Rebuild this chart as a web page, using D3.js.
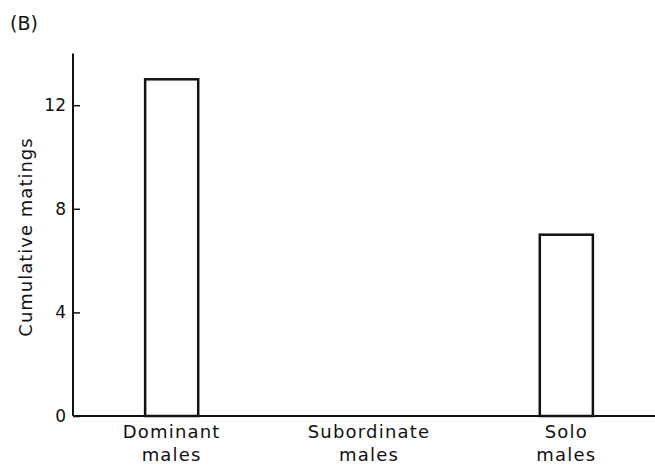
<!DOCTYPE html>
<html><head><meta charset="utf-8">
<script src="https://cdn.jsdelivr.net/npm/d3@7"></script>
<style>body{margin:0;background:#fff}svg{display:block}text{font-family:"DejaVu Sans",sans-serif;fill:#111}</style>
</head><body>
<script>
const categories = ["Dominant\nmales", "Subordinate\nmales", "Solo\nmales"];
const matings = [13, 0, 7];
const yTicks = [0, 4, 8, 12];

const W = 655, H = 468;
const svg = d3.select("body").append("svg").attr("width", W).attr("height", H);
const x = d3.scaleBand().domain(categories).range([73, 665]).paddingInner(0.731).paddingOuter(0.3655);
const y = d3.scaleLinear().domain([0, 14]).range([416, 53.4]);

// bars
svg.selectAll("rect.bar").data(categories.map((c, i) => ({c, v: matings[i]})).filter(d => d.v > 0))
  .enter().append("rect").attr("class", "bar")
  .attr("x", d => x(d.c)).attr("width", x.bandwidth())
  .attr("y", d => y(d.v)).attr("height", d => y(0) - y(d.v))
  .attr("fill", "none").attr("stroke", "#111").attr("stroke-width", 2.5);

// y axis
const ya = svg.append("g").attr("transform", "translate(73,0)")
  .call(d3.axisRight(y).tickValues(yTicks).tickSize(7).tickFormat(""));
ya.select(".domain").attr("stroke", "#111").attr("stroke-width", 2).attr("d", `M0,${y(14)}V${y(0)}`);
ya.selectAll(".tick line").attr("stroke", "#111").attr("stroke-width", 1.5);
svg.append("g").selectAll("text").data(yTicks).enter().append("text")
  .attr("x", 66).attr("y", d => y(d) + 6).attr("text-anchor", "end")
  .attr("font-size", 17).text(d => d);

// x axis
svg.append("line").attr("x1", 73).attr("x2", 655).attr("y1", y(0)).attr("y2", y(0))
  .attr("stroke", "#111").attr("stroke-width", 2);
const xl = svg.append("g").selectAll("text").data(categories).enter().append("text")
  .attr("text-anchor", "middle").attr("font-size", 18).attr("letter-spacing", 1.2);
xl.each(function(d) {
  const t = d3.select(this);
  d.split("\n").forEach((s, i) => t.append("tspan").attr("x", x(d) + x.bandwidth() / 2).attr("y", 438 + i * 23).text(s));
});

// y title
svg.append("text").attr("transform", "translate(32,237) rotate(-90)").attr("text-anchor", "middle")
  .attr("font-size", 18).attr("letter-spacing", 1).text("Cumulative matings");

// panel label
svg.append("text").attr("x", 10).attr("y", 30).attr("font-size", 19).text("(B)");
</script>
</body></html>
